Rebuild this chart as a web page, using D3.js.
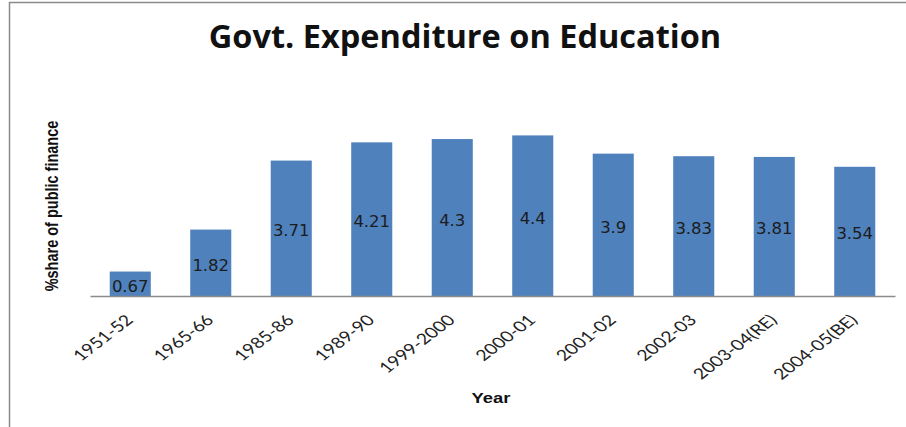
<!DOCTYPE html>
<html>
<head>
<meta charset="utf-8">
<script src="https://cdn.jsdelivr.net/npm/d3@7"></script>
<style>
  body { margin: 0; background: #fff; }
</style>
</head>
<body>
<svg id="chart"></svg>
<script>
// chart data
const years = ["1951-52", "1965-66", "1985-86", "1989-90", "1999-2000", "2000-01",
               "2001-02", "2002-03", "2003-04(RE)", "2004-05(BE)"];
const shares = [0.67, 1.82, 3.71, 4.21, 4.3, 4.4, 3.9, 3.83, 3.81, 3.54];
const labels = ["0.67", "1.82", "3.71", "4.21", "4.3", "4.4", "3.9", "3.83", "3.81", "3.54"];

const width = 906, height = 427;

const svg = d3.select("#chart")
    .attr("width", width)
    .attr("height", height);

// frame (top + left edge as in the screenshot)
svg.append("line")
    .attr("x1", 9).attr("x2", width).attr("y1", 2.5).attr("y2", 2.5)
    .attr("stroke", "#8a8a8a").attr("stroke-width", 1.5);
svg.append("line")
    .attr("x1", 9.5).attr("x2", 9.5).attr("y1", 2).attr("y2", height)
    .attr("stroke", "#8a8a8a").attr("stroke-width", 1.5);

const x = d3.scaleBand()
    .domain(years)
    .range([90, 895])
    .paddingInner(0.49)
    .paddingOuter(0.245);

const y = d3.scaleLinear()
    .domain([0, 5])
    .range([296, 113.5]);

// bars
svg.selectAll(".bar")
    .data(shares)
    .enter().append("rect")
    .attr("class", "bar")
    .attr("x", (d, i) => x(years[i]))
    .attr("width", x.bandwidth())
    .attr("y", d => y(d))
    .attr("height", d => y(0) - y(d))
    .attr("fill", "#4f81bd");

// value labels in the middle of each bar
svg.selectAll(".val")
    .data(shares)
    .enter().append("text")
    .attr("class", "val")
    .attr("x", (d, i) => x(years[i]) + x.bandwidth() / 2)
    .attr("y", d => (y(d) + y(0)) / 2 + 8)
    .attr("text-anchor", "middle")
    .style("font-family", "DejaVu Sans, sans-serif")
    .style("font-size", "16.5px")
    .style("fill", "#1c1c1c")
    .text((d, i) => labels[i]);

// x axis
const xAxis = svg.append("g")
    .attr("transform", `translate(0, ${y(0)})`)
    .call(d3.axisBottom(x).tickSize(0).tickPadding(0));

xAxis.select(".domain").attr("stroke", "#8c8c8c").attr("stroke-width", 1.3);

// the source image is stretched horizontally, so the 45° labels lean flatter
xAxis.selectAll("text")
    .attr("text-anchor", "end")
    .attr("dy", 0)
    .attr("transform", "translate(4, 25) scale(1.3, 1) rotate(-45)")
    .style("font-family", "Lato, 'Open Sans', sans-serif")
    .style("font-size", "15px")
    .style("fill", "#222");

// title
svg.append("text")
    .attr("x", 465)
    .attr("y", 48)
    .attr("text-anchor", "middle")
    .style("font-family", "'Open Sans', sans-serif")
    .style("font-weight", "bold")
    .style("font-size", "32.5px")
    .style("fill", "#111")
    .text("Govt. Expenditure on Education");

// axis titles
svg.append("text")
    .attr("transform", "translate(58, 206) scale(1.3, 1) rotate(-90)")
    .attr("text-anchor", "middle")
    .style("font-family", "'Liberation Sans', Arial, sans-serif")
    .style("font-weight", "bold")
    .style("font-size", "14.5px")
    .style("fill", "#111")
    .text("%share of public finance");

svg.append("text")
    .attr("transform", "translate(491, 403) scale(1.27, 1)")
    .attr("text-anchor", "middle")
    .style("font-family", "'Liberation Sans', Arial, sans-serif")
    .style("font-weight", "bold")
    .style("font-size", "14.5px")
    .style("fill", "#111")
    .text("Year");
</script>
</body>
</html>
